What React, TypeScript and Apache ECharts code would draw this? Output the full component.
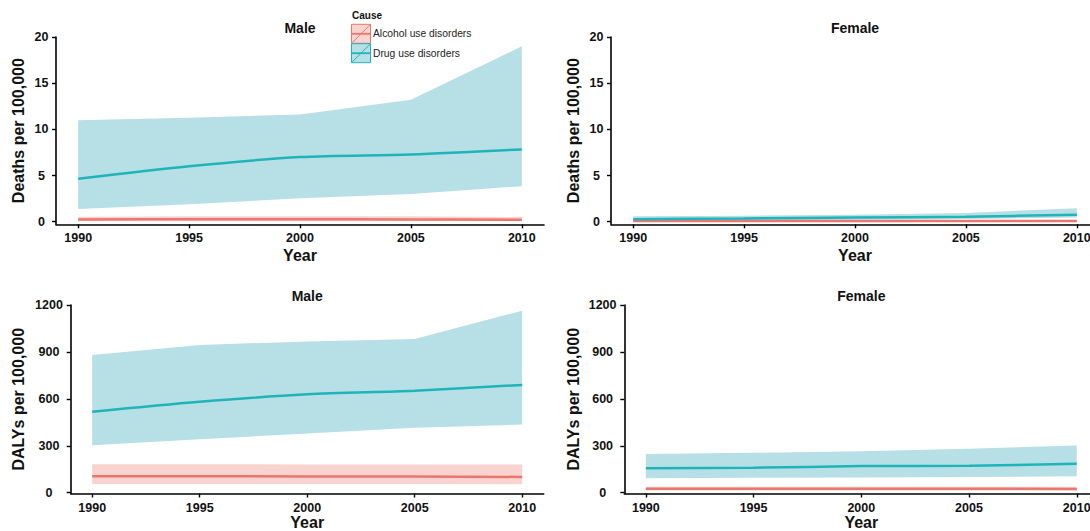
import { useEffect, useRef } from "react";
import * as echarts from "echarts";

const years = [1990, 1995, 2000, 2005, 2010];
const causes = ["Alcohol use disorders", "Drug use disorders"];
const yTicksDeaths = [0, 5, 10, 15, 20];
const yTicksDalys = [0, 300, 600, 900, 1200];

// Deaths per 100,000 — Male
const maleDeathsAlcMean = [0.25, 0.27, 0.27, 0.25, 0.2];
const maleDeathsAlcLow = [0.05, 0.06, 0.06, 0.06, 0.05];
const maleDeathsAlcHigh = [0.55, 0.58, 0.6, 0.58, 0.5];
const maleDeathsDrugMean = [4.64, 6.0, 7.0, 7.28, 7.83];
const maleDeathsDrugLow = [1.38, 1.9, 2.53, 3.0, 3.84];
const maleDeathsDrugHigh = [10.98, 11.27, 11.6, 13.2, 19.0];

// Deaths per 100,000 — Female
const femaleDeathsAlcMean = [0.08, 0.08, 0.08, 0.07, 0.07];
const femaleDeathsAlcLow = [0.02, 0.02, 0.02, 0.02, 0.02];
const femaleDeathsAlcHigh = [0.15, 0.15, 0.15, 0.14, 0.14];
const femaleDeathsDrugMean = [0.28, 0.35, 0.45, 0.55, 0.75];
const femaleDeathsDrugLow = [0.12, 0.15, 0.2, 0.3, 0.45];
const femaleDeathsDrugHigh = [0.6, 0.65, 0.75, 0.95, 1.45];

// DALYs per 100,000 — Male
const maleDalysAlcMean = [105, 105, 104, 103, 101];
const maleDalysAlcLow = [55, 55, 55, 55, 54];
const maleDalysAlcHigh = [182, 182, 181, 181, 180];
const maleDalysDrugMean = [517, 581, 629, 652, 689];
const maleDalysDrugLow = [304, 342, 378, 415, 436];
const maleDalysDrugHigh = [881, 945, 967, 982, 1164];

// DALYs per 100,000 — Female
const femaleDalysAlcMean = [25, 25, 25, 25, 24];
const femaleDalysAlcLow = [14, 14, 14, 14, 14];
const femaleDalysAlcHigh = [38, 38, 38, 38, 37];
const femaleDalysDrugMean = [156, 160, 170, 173, 185];
const femaleDalysDrugLow = [93, 95, 98, 101, 105];
const femaleDalysDrugHigh = [247, 255, 265, 281, 302];

const FONT = "'Liberation Sans', Arial, Helvetica, sans-serif";
const LINE_COLORS = ["#EB766E", "#1FB4BA"];
const BAND_COLORS = ["#F9D3D0", "#B6E0E5"];

type Panel = {
  title: string;
  yTitle: string;
  left: number;
  top: number;
  width: number;
  height: number;
  ymin: number;
  ymax: number;
  yTicks: number[];
  labelMargin: number;
  data: { mean: number[]; low: number[]; high: number[] }[];
};

const panels: Panel[] = [
  {
    title: "Male",
    yTitle: "Deaths per 100,000",
    left: 56,
    top: 37,
    width: 488,
    height: 187.3,
    ymin: -0.28,
    ymax: 20,
    yTicks: yTicksDeaths,
    labelMargin: 14.5,
    data: [
      { mean: maleDeathsAlcMean, low: maleDeathsAlcLow, high: maleDeathsAlcHigh },
      { mean: maleDeathsDrugMean, low: maleDeathsDrugLow, high: maleDeathsDrugHigh },
    ],
  },
  {
    title: "Female",
    yTitle: "Deaths per 100,000",
    left: 611,
    top: 37,
    width: 488,
    height: 187.3,
    ymin: -0.28,
    ymax: 20,
    yTicks: yTicksDeaths,
    labelMargin: 14.5,
    data: [
      { mean: femaleDeathsAlcMean, low: femaleDeathsAlcLow, high: femaleDeathsAlcHigh },
      { mean: femaleDeathsDrugMean, low: femaleDeathsDrugLow, high: femaleDeathsDrugHigh },
    ],
  },
  {
    title: "Male",
    yTitle: "DALYs per 100,000",
    left: 70.7,
    top: 305,
    width: 473,
    height: 188.5,
    ymin: -5,
    ymax: 1200,
    yTicks: yTicksDalys,
    labelMargin: 21.7,
    data: [
      { mean: maleDalysAlcMean, low: maleDalysAlcLow, high: maleDalysAlcHigh },
      { mean: maleDalysDrugMean, low: maleDalysDrugLow, high: maleDalysDrugHigh },
    ],
  },
  {
    title: "Female",
    yTitle: "DALYs per 100,000",
    left: 624.3,
    top: 305,
    width: 474,
    height: 188.5,
    ymin: -5,
    ymax: 1200,
    yTicks: yTicksDalys,
    labelMargin: 21.7,
    data: [
      { mean: femaleDalysAlcMean, low: femaleDalysAlcLow, high: femaleDalysAlcHigh },
      { mean: femaleDalysDrugMean, low: femaleDalysDrugLow, high: femaleDalysDrugHigh },
    ],
  },
];

function buildOption() {
  const grid = panels.map((p) => ({
    left: p.left,
    top: p.top,
    width: p.width,
    height: p.height,
    containLabel: false,
    outerBoundsMode: "none",
  }));

  const axisLine = { show: true, onZero: false, lineStyle: { color: "#000", width: 1.6 } };
  const tickStyle = { color: "#000", width: 1.4 };
  const labelStyle = { fontSize: 12.5, fontWeight: "bold", color: "#111", fontFamily: FONT };

  const xAxis = panels.map((p, i) => ({
    type: "value",
    gridIndex: i,
    min: 1989,
    max: 2011,
    axisLine,
    axisTick: { show: true, length: 4, lineStyle: tickStyle, customValues: years },
    axisLabel: {
      ...labelStyle,
      margin: 8,
      lineHeight: 12,
      customValues: years,
      formatter: (v: number) => String(v),
    },
    splitLine: { show: false },
  }));

  const yAxis = panels.map((p, i) => ({
    type: "value",
    gridIndex: i,
    min: p.ymin,
    max: p.ymax,
    axisLine,
    axisTick: { show: true, length: 4, lineStyle: tickStyle, customValues: p.yTicks },
    axisLabel: {
      ...labelStyle,
      align: "center",
      margin: p.labelMargin,
      customValues: p.yTicks,
      formatter: (v: number) => String(v),
    },
    splitLine: { show: false },
  }));

  const series: any[] = [];
  panels.forEach((p, i) => {
    p.data.forEach((d, c) => {
      series.push({
        name: `${causes[c]} interval`,
        type: "custom",
        xAxisIndex: i,
        yAxisIndex: i,
        data: [[years[0], d.low[0]]],
        silent: true,
        clip: true,
        z: 1,
        renderItem: (_params: any, api: any) => {
          const upper = years.map((yr, k) => api.coord([yr, d.high[k]]));
          const lower = years.map((yr, k) => api.coord([yr, d.low[k]])).reverse();
          return {
            type: "polygon",
            shape: { points: upper.concat(lower) },
            style: { fill: BAND_COLORS[c], stroke: "none" },
          };
        },
      });
    });
  });
  panels.forEach((p, i) => {
    p.data.forEach((d, c) => {
      series.push({
        name: causes[c],
        type: "line",
        xAxisIndex: i,
        yAxisIndex: i,
        data: years.map((yr, k) => [yr, d.mean[k]]),
        symbol: "none",
        smooth: 0.3,
        lineStyle: { color: LINE_COLORS[c], width: 2.5 },
        z: 3,
      });
    });
  });

  const graphic: any[] = [];
  panels.forEach((p) => {
    const cx = p.left + p.width / 2;
    const cy = p.top + p.height / 2;
    graphic.push({
      type: "text",
      x: cx,
      y: p.top - 9.5,
      style: {
        text: p.title,
        fontSize: 14,
        fontWeight: "bold",
        fontFamily: FONT,
        fill: "#111",
        textAlign: "center",
        textVerticalAlign: "middle",
      },
    });
    graphic.push({
      type: "text",
      x: cx,
      y: Math.min(p.top + p.height + 31, 522),
      style: {
        text: "Year",
        fontSize: 16,
        lineHeight: 14,
        fontWeight: "bold",
        fontFamily: FONT,
        fill: "#111",
        textAlign: "center",
        textVerticalAlign: "middle",
      },
    });
    graphic.push({
      type: "text",
      x: p.left < 300 ? 18 : 573,
      y: cy,
      rotation: Math.PI / 2,
      style: {
        text: p.yTitle,
        fontSize: 16,
        fontWeight: "bold",
        fontFamily: FONT,
        fill: "#111",
        textAlign: "center",
        textVerticalAlign: "middle",
      },
    });
  });

  // Legend
  graphic.push({
    type: "text",
    x: 352,
    y: 15.5,
    style: {
      text: "Cause",
      fontSize: 10,
      fontWeight: "bold",
      fontFamily: FONT,
      fill: "#111",
      textAlign: "left",
      textVerticalAlign: "middle",
    },
  });
  causes.forEach((name, c) => {
    const y0 = 24.3 + c * 19.4;
    const size = 19;
    graphic.push({
      type: "rect",
      shape: { x: 351.5, y: y0, width: size, height: size },
      style: { fill: BAND_COLORS[c], stroke: LINE_COLORS[c], lineWidth: 1 },
      z: 10,
    });
    graphic.push({
      type: "line",
      shape: { x1: 351.5, y1: y0 + size / 2, x2: 351.5 + size, y2: y0 + size / 2 },
      style: { stroke: LINE_COLORS[c], lineWidth: 1.8 },
      z: 11,
    });
    graphic.push({
      type: "line",
      shape: { x1: 352, y1: y0 + size - 0.5, x2: 351 + size, y2: y0 + 0.5 },
      style: { stroke: LINE_COLORS[c], lineWidth: 1 },
      z: 11,
    });
    graphic.push({
      type: "text",
      x: 373,
      y: y0 + size / 2,
      style: {
        text: name,
        fontSize: 10.3,
        fontFamily: FONT,
        fill: "#222",
        textAlign: "left",
        textVerticalAlign: "middle",
      },
      z: 11,
    });
  });

  return {
    animation: false,
    backgroundColor: "#fff",
    textStyle: { fontFamily: FONT },
    grid,
    xAxis,
    yAxis,
    series,
    graphic,
  };
}

export default function App() {
  const ref = useRef<HTMLDivElement>(null);
  useEffect(() => {
    if (!ref.current) return;
    const chart = echarts.init(ref.current, null, { renderer: "svg" });
    chart.setOption(buildOption() as any);
    return () => chart.dispose();
  }, []);
  return (
    <div
      ref={ref}
      style={{ position: "fixed", left: 0, top: 0, width: 1090, height: 531, background: "#fff" }}
    />
  );
}
